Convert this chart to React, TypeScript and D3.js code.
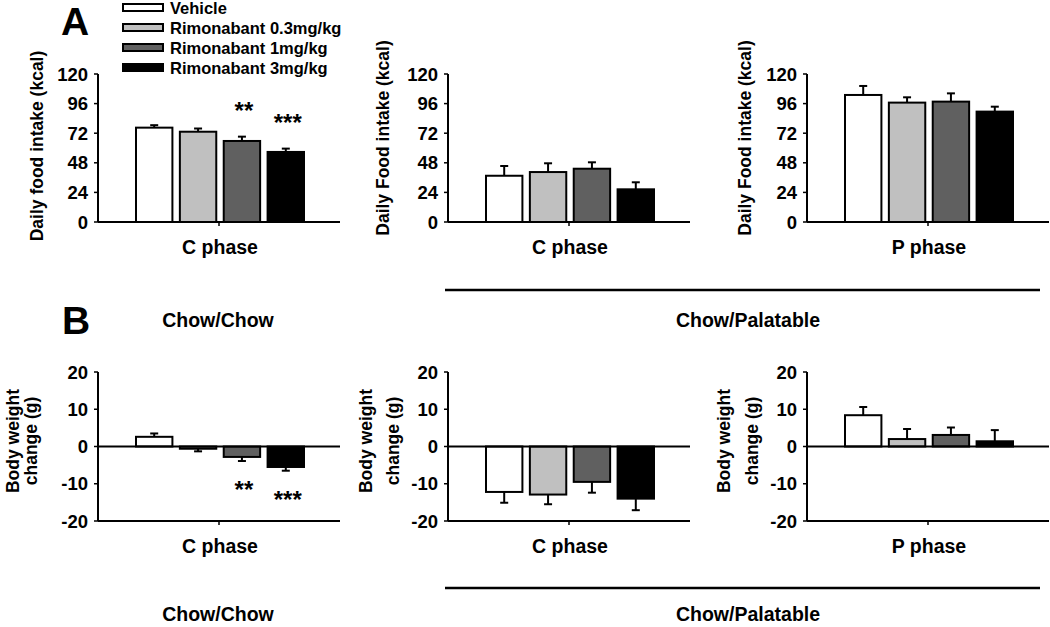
import React from "react";
import * as d3 from "d3";

const groups = ["Vehicle", "Rimonabant 0.3mg/kg", "Rimonabant 1mg/kg", "Rimonabant 3mg/kg"];
const fills = ["#ffffff", "#c0c0c0", "#606060", "#000000"];

const foodTicks = [0, 24, 48, 72, 96, 120];
const bwTicks = [-20, -10, 0, 10, 20];

// Panel A: daily food intake (kcal)
const foodCC = [76.5, 73.2, 65.7, 56.8];
const foodCCErr = [2.0, 2.6, 3.5, 2.7];
const foodCPC = [37.5, 40.5, 43.2, 26.5];
const foodCPCErr = [7.9, 7.1, 5.2, 5.7];
const foodCPP = [103.0, 96.8, 97.6, 89.5];
const foodCPPErr = [7.3, 4.3, 6.7, 4.0];

// Panel B: body weight change (g)
const bwCC = [2.6, -0.6, -2.8, -5.5];
const bwCCErr = [0.9, 0.7, 1.1, 1.0];
const bwCPC = [-12.2, -12.9, -9.5, -14.0];
const bwCPCErr = [2.9, 2.6, 2.9, 3.1];
const bwCPP = [8.4, 2.0, 3.1, 1.4];
const bwCPPErr = [2.2, 2.7, 2.0, 3.0];

const sigCC = ["", "", "**", "***"];

const FONT = "'Liberation Sans', Arial, sans-serif";

type PanelProps = {
  x0: number; top: number; bottom: number;
  domain: [number, number]; ticks: number[];
  values: number[]; errs: number[]; phase: string;
  titleLines: string[]; titleX: number[]; titleY: number;
  sig?: string[]; sigAbove?: boolean;
};

function Panel(p: PanelProps) {
  const axisLen = 242;
  const y = d3.scaleLinear().domain(p.domain).range([p.bottom, p.top]);
  const x = d3.scaleBand<string>().domain(groups).range([p.x0 + 38, p.x0 + 206]).paddingInner(0.17).paddingOuter(0);
  const bw = x.bandwidth();
  const zeroY = y(0);
  const baseY = p.bottom;
  return (
    <g>
      {p.values.map((v, i) => {
        const xx = x(groups[i])!;
        const yTop = Math.min(y(v), zeroY);
        const h = Math.abs(y(v) - zeroY);
        const cx = xx + bw / 2;
        const errEnd = v >= 0 ? y(v + p.errs[i]) : y(v - p.errs[i]);
        return (
          <g key={i}>
            <line x1={cx} x2={cx} y1={y(v)} y2={errEnd} stroke="#000" strokeWidth={2} />
            <line x1={cx - 4} x2={cx + 4} y1={errEnd} y2={errEnd} stroke="#000" strokeWidth={2} />
            <rect x={xx} y={yTop} width={bw} height={h} fill={fills[i]} stroke="#000" strokeWidth={2} />
          </g>
        );
      })}
      {p.sig && p.values.map((v, i) => {
        if (!p.sig![i]) return null;
        const cx = x(groups[i])! + bw / 2;
        const errEnd = v >= 0 ? y(v + p.errs[i]) : y(v - p.errs[i]);
        const cy = p.sigAbove ? errEnd - 31 : errEnd + 24;
        return (
          <text key={"s" + i} x={cx + 2} y={cy + 13} textAnchor="middle" fontSize={24} fontWeight="bold" fontFamily={FONT}>{p.sig![i]}</text>
        );
      })}
      {/* y axis */}
      <line x1={p.x0} x2={p.x0} y1={p.top} y2={baseY} stroke="#000" strokeWidth={2} />
      {p.ticks.map((t) => (
        <g key={t}>
          <line x1={p.x0 - 4} x2={p.x0} y1={y(t)} y2={y(t)} stroke="#000" strokeWidth={1.5} />
          <text x={p.x0 - 10} y={y(t)} dy="0.36em" textAnchor="end" fontSize={18.5} fontWeight="bold" fontFamily={FONT}>{t}</text>
        </g>
      ))}
      {/* zero line / x axis */}
      <line x1={p.x0} x2={p.x0 + axisLen} y1={zeroY} y2={zeroY} stroke="#000" strokeWidth={2} />
      {zeroY !== baseY && (
        <line x1={p.x0} x2={p.x0 + axisLen} y1={baseY} y2={baseY} stroke="#000" strokeWidth={2} />
      )}
      <line x1={p.x0 + 121} x2={p.x0 + 121} y1={baseY} y2={baseY + 4} stroke="#000" strokeWidth={1.5} />
      <text x={p.x0 + 122} y={baseY + 32} textAnchor="middle" fontSize={19.5} fontWeight="bold" fontFamily={FONT}>{p.phase}</text>
      {p.titleLines.map((t, k) => (
        <text key={k} transform={`translate(${p.titleX[k]},${p.titleY}) rotate(-90)`} textAnchor="middle" dominantBaseline="central" fontSize={17.5} fontWeight="bold" fontFamily={FONT}>{t}</text>
      ))}
    </g>
  );
}

export default function App() {
  return (
    <svg width={1050} height={627} style={{ position: "absolute", left: 0, top: 0, background: "#fff" }} fontFamily={FONT}>
      <rect width={1050} height={627} fill="#fff" />
      {/* Letters */}
      <text x={61} y={35} fontSize={39} fontWeight="bold" fontFamily={FONT}>A</text>
      <text x={62} y={334} fontSize={39} fontWeight="bold" fontFamily={FONT}>B</text>
      {/* Legend */}
      {groups.map((g, i) => (
        <g key={g}>
          <rect x={123} y={4 + i * 20} width={40} height={7} fill={fills[i]} stroke="#000" strokeWidth={2} />
          <text x={170} y={8 + i * 20} dy="0.36em" fontSize={16.5} fontWeight="bold" fontFamily={FONT}>{g}</text>
        </g>
      ))}
      <Panel x0={98} top={74} bottom={222} domain={[0, 120]} ticks={foodTicks} values={foodCC} errs={foodCCErr} phase="C phase"
        titleLines={["Daily food intake (kcal)"]} titleX={[37]} titleY={146} sig={sigCC} sigAbove={true} />
      <Panel x0={448} top={74} bottom={222} domain={[0, 120]} ticks={foodTicks} values={foodCPC} errs={foodCPCErr} phase="C phase"
        titleLines={["Daily Food intake (kcal)"]} titleX={[383]} titleY={138} />
      <Panel x0={807} top={74} bottom={222} domain={[0, 120]} ticks={foodTicks} values={foodCPP} errs={foodCPPErr} phase="P phase"
        titleLines={["Daily Food intake (kcal)"]} titleX={[745]} titleY={138} />
      <Panel x0={98} top={372} bottom={521} domain={[-20, 20]} ticks={bwTicks} values={bwCC} errs={bwCCErr} phase="C phase"
        titleLines={["Body weight", "change (g)"]} titleX={[13, 31]} titleY={441} sig={sigCC} sigAbove={false} />
      <Panel x0={448} top={372} bottom={521} domain={[-20, 20]} ticks={bwTicks} values={bwCPC} errs={bwCPCErr} phase="C phase"
        titleLines={["Body weight", "change (g)"]} titleX={[366, 393]} titleY={441} />
      <Panel x0={807} top={372} bottom={521} domain={[-20, 20]} ticks={bwTicks} values={bwCPP} errs={bwCPPErr} phase="P phase"
        titleLines={["Body weight", "change (g)"]} titleX={[724, 752]} titleY={441} />
      {/* Group labels */}
      <line x1={445} x2={1040} y1={290} y2={290} stroke="#000" strokeWidth={2.5} />
      <text x={218} y={327} textAnchor="middle" fontSize={19.5} fontWeight="bold" fontFamily={FONT}>Chow/Chow</text>
      <text x={748} y={327} textAnchor="middle" fontSize={19.5} fontWeight="bold" fontFamily={FONT}>Chow/Palatable</text>
      <line x1={445} x2={1040} y1={588} y2={588} stroke="#000" strokeWidth={2.5} />
      <text x={218} y={621} textAnchor="middle" fontSize={19.5} fontWeight="bold" fontFamily={FONT}>Chow/Chow</text>
      <text x={748} y={621} textAnchor="middle" fontSize={19.5} fontWeight="bold" fontFamily={FONT}>Chow/Palatable</text>
    </svg>
  );
}
